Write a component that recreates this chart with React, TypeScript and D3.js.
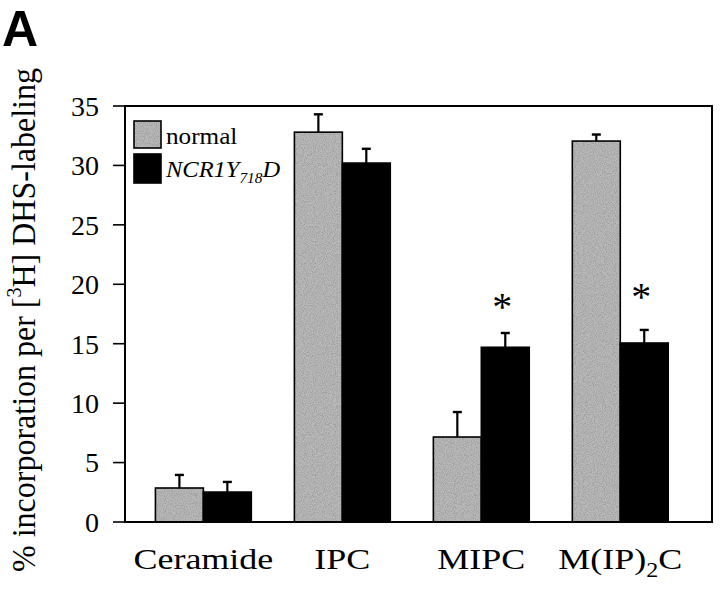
import React from "react";
import * as d3 from "d3";

const categories = ["Ceramide", "IPC", "MIPC", "M(IP)2C"];
const seriesKeys = ["normal", "NCR1Y718D"];
const normalValues = [2.86, 32.8, 7.15, 32.05];
const normalErrors = [1.1, 1.5, 2.1, 0.55];
const mutantValues = [2.52, 30.2, 14.7, 15.06];
const mutantErrors = [0.85, 1.2, 1.2, 1.1];
const starCategories = ["MIPC", "M(IP)2C"];
const starValues = [18.5, 19.35];
const yTicks = [0, 5, 10, 15, 20, 25, 30, 35];

const W = 720;
const H = 590;
const left = 125;
const right = 712;
const top = 106;
const bottom = 522;
const GRAY = "#bababa";
const SERIF = "'Liberation Serif', 'Times New Roman', serif";

export default function App() {
  const x0 = d3
    .scaleBand<string>()
    .domain(categories)
    .range([left, right])
    .paddingInner(0.31)
    .paddingOuter(0.267)
    .align(0.41);
  const x1 = d3
    .scaleBand<string>()
    .domain(seriesKeys)
    .range([0, x0.bandwidth()])
    .padding(0);
  const y = d3.scaleLinear().domain([0, 35]).range([bottom, top]);

  const series = [
    { key: "normal", values: normalValues, errors: normalErrors, fill: GRAY, tex: true },
    { key: "NCR1Y718D", values: mutantValues, errors: mutantErrors, fill: "#000", tex: false },
  ];

  const capHalf = 4.5;

  return (
    <svg
      width={W}
      height={H}
      viewBox={`0 0 ${W} ${H}`}
      style={{ position: "absolute", left: 0, top: 0, background: "#fff" }}
    >
      <defs>
        <filter id="stipple" x="0" y="0" width="100%" height="100%">
          <feTurbulence type="fractalNoise" baseFrequency="1.1" numOctaves={1} seed={3} result="n" />
          <feColorMatrix
            in="n"
            type="matrix"
            values="0 0 0 0 0  0 0 0 0 0  0 0 0 0 0  0.9 0 0 0 -0.35"
            result="dots"
          />
          <feComposite in="dots" in2="SourceGraphic" operator="in" result="dotsIn" />
          <feMerge>
            <feMergeNode in="SourceGraphic" />
            <feMergeNode in="dotsIn" />
          </feMerge>
        </filter>
      </defs>
      <rect x={0} y={0} width={W} height={H} fill="#fff" />
      {/* Panel letter */}
      <text
        x={2}
        y={46}
        fontFamily="'Liberation Sans', Arial, sans-serif"
        fontWeight="bold"
        fontSize={50}
        fill="#000"
      >
        A
      </text>

      {/* Bars */}
      {series.map((s) =>
        categories.map((c, i) => {
          const bx = (x0(c) as number) + (x1(s.key) as number);
          const bw = x1.bandwidth();
          const v = s.values[i];
          const e = s.errors[i];
          const cx = bx + bw / 2;
          return (
            <g key={s.key + c}>
              <line
                x1={cx}
                x2={cx}
                y1={y(v)}
                y2={y(v + e)}
                stroke="#000"
                strokeWidth={2.2}
              />
              <line
                x1={cx - capHalf}
                x2={cx + capHalf}
                y1={y(v + e)}
                y2={y(v + e)}
                stroke="#000"
                strokeWidth={2.4}
              />
              <rect
                x={bx}
                y={y(v)}
                width={bw}
                height={y(0) - y(v)}
                fill={s.fill}
                filter={s.tex ? "url(#stipple)" : undefined}
              />
              <rect
                x={bx}
                y={y(v)}
                width={bw}
                height={y(0) - y(v)}
                fill="none"
                stroke="#000"
                strokeWidth={1.6}
              />
            </g>
          );
        })
      )}

      {/* Significance stars */}
      {starCategories.map((c, i) => {
        const cx = (x0(c) as number) + (x1("NCR1Y718D") as number) + x1.bandwidth() / 2;
        return (
          <text
            key={"star" + c}
            x={cx - 3}
            y={y(starValues[i])}
            dy={18}
            textAnchor="middle"
            fontFamily={SERIF}
            fontSize={40}
            fill="#000"
          >
            *
          </text>
        );
      })}

      {/* Frame */}
      <rect
        x={left}
        y={top}
        width={right - left}
        height={bottom - top}
        fill="none"
        stroke="#000"
        strokeWidth={2}
      />

      {/* Y ticks */}
      {yTicks.map((t) => (
        <g key={"t" + t}>
          <line x1={left - 12} x2={left} y1={y(t)} y2={y(t)} stroke="#000" strokeWidth={1.6} />
          <text
            x={99}
            y={y(t)}
            dy="0.35em"
            textAnchor="end"
            fontFamily={SERIF}
            fontSize={28}
            fill="#000"
          >
            {t}
          </text>
        </g>
      ))}

      {/* X labels */}
      {categories.map((c) => {
        const cx = (x0(c) as number) + x0.bandwidth() / 2;
        return (
          <g key={"xl" + c} transform={`translate(${cx},569) scale(1.2,1)`}>
            <text x={0} y={0} textAnchor="middle" fontFamily={SERIF} fontSize={30} fill="#000">
              {c === "M(IP)2C" ? (
                <>
                  M(IP)
                  <tspan fontSize={20} dy={8}>2</tspan>
                  <tspan dy={-8}>C</tspan>
                </>
              ) : (
                c
              )}
            </text>
          </g>
        );
      })}

      {/* Y label */}
      <g transform={`translate(35,320) rotate(-90) scale(1,1.05)`}>
        <text x={0} y={0} textAnchor="middle" fontFamily={SERIF} fontSize={32} fill="#000">
          % incorporation per [<tspan fontSize={20} dy={-13}>3</tspan>
          <tspan dy={13}>H] DHS-labeling</tspan>
        </text>
      </g>

      {/* Legend */}
      <rect x={134} y={121} width={27} height={27} fill={GRAY} filter="url(#stipple)" />
      <rect x={134} y={121} width={27} height={27} fill="none" stroke="#000" strokeWidth={1.6} />
      <rect x={134} y={154} width={27} height={29} fill="#000" stroke="#000" strokeWidth={1.6} />
      <g transform="translate(166,144) scale(1.05,1)">
        <text x={0} y={0} fontFamily={SERIF} fontSize={24} fill="#000">
          normal
        </text>
      </g>
      <g transform="translate(166,177) scale(1.02,1)">
        <text x={0} y={0} fontFamily={SERIF} fontStyle="italic" fontSize={24} fill="#000">
          NCR1Y
          <tspan fontSize={15} dy={6}>718</tspan>
          <tspan dy={-6}>D</tspan>
        </text>
      </g>
    </svg>
  );
}
